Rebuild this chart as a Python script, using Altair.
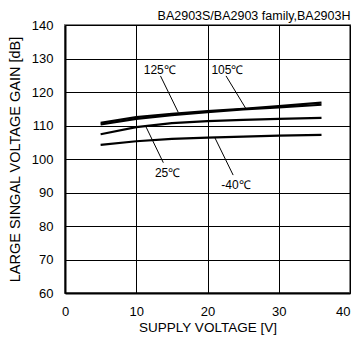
import altair as alt
import pandas as pd

volts = [5, 10, 15, 20, 25, 30, 36]
gain_125 = [110.8, 112.5, 113.5, 114.3, 115.0, 115.8, 116.8]
gain_105 = [110.3, 112.0, 113.1, 114.0, 114.8, 115.4, 116.2]
gain_25 = [107.4, 109.5, 110.7, 111.3, 111.7, 112.0, 112.3]
gain_m40 = [104.2, 105.3, 106.0, 106.4, 106.7, 107.0, 107.2]

series = {"125℃": gain_125, "105℃": gain_105, "25℃": gain_25, "-40℃": gain_m40}

label_text = ["125℃", "105℃", "25℃", "-40℃"]
label_x = [13.3, 22.8, 14.4, 24.0]
label_y = [126.6, 126.6, 95.9, 92.2]

ptr_x1 = [13.4, 22.6, 11.3, 21.0]
ptr_y1 = [124.8, 124.8, 109.9, 106.5]
ptr_x2 = [15.9, 25.4, 13.8, 23.6]
ptr_y2 = [113.9, 115.0, 98.9, 95.2]

x_ticks = [0, 10, 20, 30, 40]
y_ticks = [60, 70, 80, 90, 100, 110, 120, 130, 140]

rows = []
for name, vals in series.items():
    for v, g in zip(volts, vals):
        rows.append({"series": name, "v": v, "gain": g})
df = pd.DataFrame(rows)

lab = pd.DataFrame({"t": label_text, "x": label_x, "y": label_y})
ptr = pd.DataFrame({"x": ptr_x1, "y": ptr_y1, "x2": ptr_x2, "y2": ptr_y2})

FONT = "Liberation Sans"

xs = alt.Scale(domain=[0, 40], nice=False)
ys = alt.Scale(domain=[60, 140], nice=False)

xax = alt.Axis(values=x_ticks, title="SUPPLY VOLTAGE [V]", grid=True,
               gridColor="#000000", gridWidth=1, gridOpacity=1, tickSize=0,
               domainColor="#000000", domainWidth=2, labelPadding=12, labelOverlap=False,
               labelFlush=False,
               labelAlign=alt.condition("datum.value == 40", alt.value("right"), alt.value("center")),
               labelFontSize=13, labelFont=FONT, titleFont=FONT, titleFontSize=13.5,
               titleFontWeight="normal", titleColor="#000", labelColor="#000", titlePadding=2)
yax = alt.Axis(values=y_ticks, tickCount=9,
               title="LARGE SINGAL VOLTAGE GAIN [dB]", grid=True, labelOverlap=False,
               gridColor="#000000", gridWidth=1, gridOpacity=1, tickSize=0,
               domainColor="#000000", domainWidth=2, labelPadding=12,
               labelFontSize=13, labelFont=FONT, titleFont=FONT, titleFontSize=14.5,
               titleFontWeight="normal", titleColor="#000", labelColor="#000", titlePadding=9)

X = lambda f: alt.X(f, scale=xs, axis=xax)
Y = lambda f: alt.Y(f, scale=ys, axis=yax)

lines = alt.Chart(df).mark_line(color="#000000", strokeWidth=2.2).encode(
    x=X("v:Q"), y=Y("gain:Q"), detail="series:N",
)

pointers = alt.Chart(ptr).mark_rule(color="#000000", strokeWidth=1).encode(
    x=X("x:Q"), y=Y("y:Q"), x2="x2:Q", y2="y2:Q",
)

labels = alt.Chart(lab).mark_text(font=FONT, fontSize=12, color="#000000").encode(
    x=X("x:Q"), y=Y("y:Q"), text="t:N",
)

chart = alt.layer(lines, pointers, labels).properties(
    width=285, height=268,
    title=alt.TitleParams("BA2903S/BA2903 family,BA2903H", anchor="end", font=FONT,
                          fontSize=12.5, fontWeight="normal", color="#000", offset=-3),
    autosize=alt.AutoSizeParams(type="none"),
    padding={"left": 57, "top": 17, "right": 1, "bottom": 44},
).configure_view(stroke="#808080", strokeWidth=2)

chart.save("out.html", embed_options={"renderer": "svg", "actions": False})
